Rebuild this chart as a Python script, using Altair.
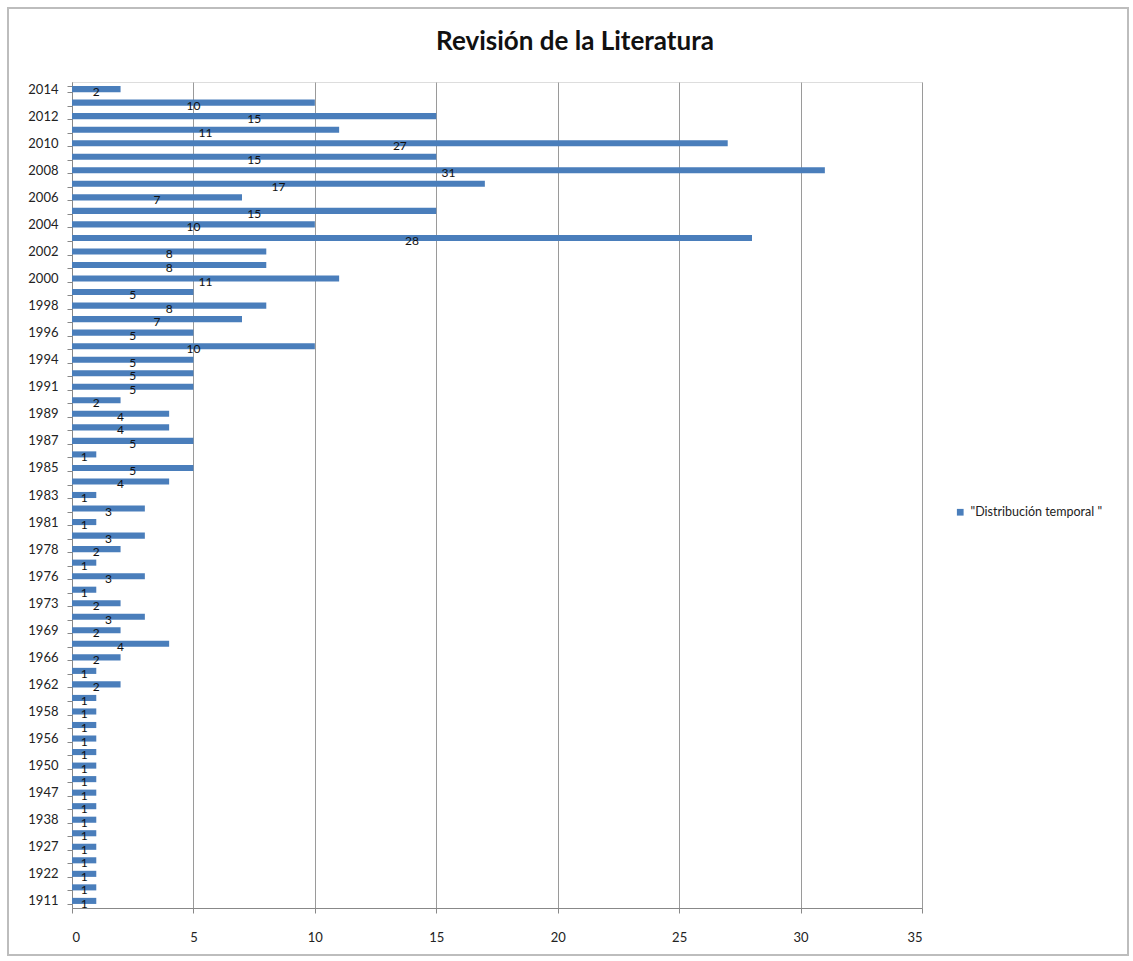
import altair as alt
import pandas as pd

years = ["2014","2013","2012","2011","2010","2009","2008","2007","2006","2005","2004","2003",
         "2002","2001","2000","1999","1998","1997","1996","1995","1994","1992","1991","1990",
         "1989","1988","1987","1986","1985","1984","1983","1982","1981","1979","1978","1977",
         "1976","1974","1973","1971","1969","1968","1966","1964","1962","1959","1958","1957",
         "1956","1951","1950","1949","1947","1940","1938","1930","1927","1925","1922","1915","1911"]
counts = [2,10,15,11,27,15,31,17,7,15,10,28,
          8,8,11,5,8,7,5,10,5,5,5,2,
          4,4,5,1,5,4,1,3,1,3,2,1,
          3,1,2,3,2,4,2,1,2,1,1,1,
          1,1,1,1,1,1,1,1,1,1,1,1,1]
series_name = '"Distribución temporal "'
x_ticks = [0, 5, 10, 15, 20, 25, 30, 35]

df = pd.DataFrame({"year": years, "count": counts, "serie": [series_name] * len(years)})
df["half"] = df["count"] / 2.0

shown = [years[i] for i in range(0, len(years), 2)]
label_expr = "indexof([" + ",".join("'" + s + "'" for s in shown) + "], datum.value) >= 0 ? datum.label : ''"

FONT = "Lato"

base = alt.Chart(df)

y_enc = alt.Y("year:N", sort=years, title=None,
              scale=alt.Scale(paddingInner=0.55, paddingOuter=0.3),
              axis=alt.Axis(labelExpr=label_expr, tickBand="extent", tickSize=5,
                            tickColor="#888888", domainColor="#888888",
                            labelFontSize=13, labelColor="#222222", labelFont=FONT,
                            labelPadding=9, grid=False))

bars = base.mark_bar(color="#4A7EBB").encode(
    x=alt.X("count:Q", title=None,
            scale=alt.Scale(domain=[0, 35], nice=False),
            axis=alt.Axis(values=x_ticks, grid=True, gridColor="#9a9a9a",
                          domainColor="#888888", tickColor="#888888", tickSize=5,
                          labelFontSize=13, labelColor="#222222", labelFont=FONT,
                          labelPadding=18)),
    y=y_enc,
    color=alt.Color("serie:N", title=None,
                    scale=alt.Scale(range=["#4A7EBB"]),
                    legend=alt.Legend(orient="none", legendX=882, legendY=424,
                                      symbolType="square", symbolSize=45,
                                      labelFontSize=12.5, labelFont=FONT,
                                      labelColor="#222222")),
)

labels = base.mark_text(fontSize=12, font=FONT, color="#111111", baseline="middle", dy=3).encode(
    x="half:Q",
    y=alt.Y("year:N", sort=years),
    text="count:Q",
)

frame = alt.Chart(pd.DataFrame({"a": [0]})).mark_rect(
    fill=None, stroke="#bdbdbd", strokeWidth=2
).encode(
    x=alt.value(-64), x2=alt.value(1056),
    y=alt.value(-74), y2=alt.value(873),
)

chart = alt.layer(frame, bars, labels).properties(
    width=850, height=826,
    title=alt.TitleParams("Revisión de la Literatura", font=FONT, fontSize=26,
                          fontWeight="bold", color="#111111", anchor="middle",
                          frame="group", dx=78, offset=-48),
    autosize=alt.AutoSizeParams(type="none"),
    padding={"left": 72, "top": 82, "right": 211, "bottom": 53},
).configure_view(stroke=None).configure(background="white")

chart.save("out.html", embed_options={"renderer": "svg", "actions": False})
